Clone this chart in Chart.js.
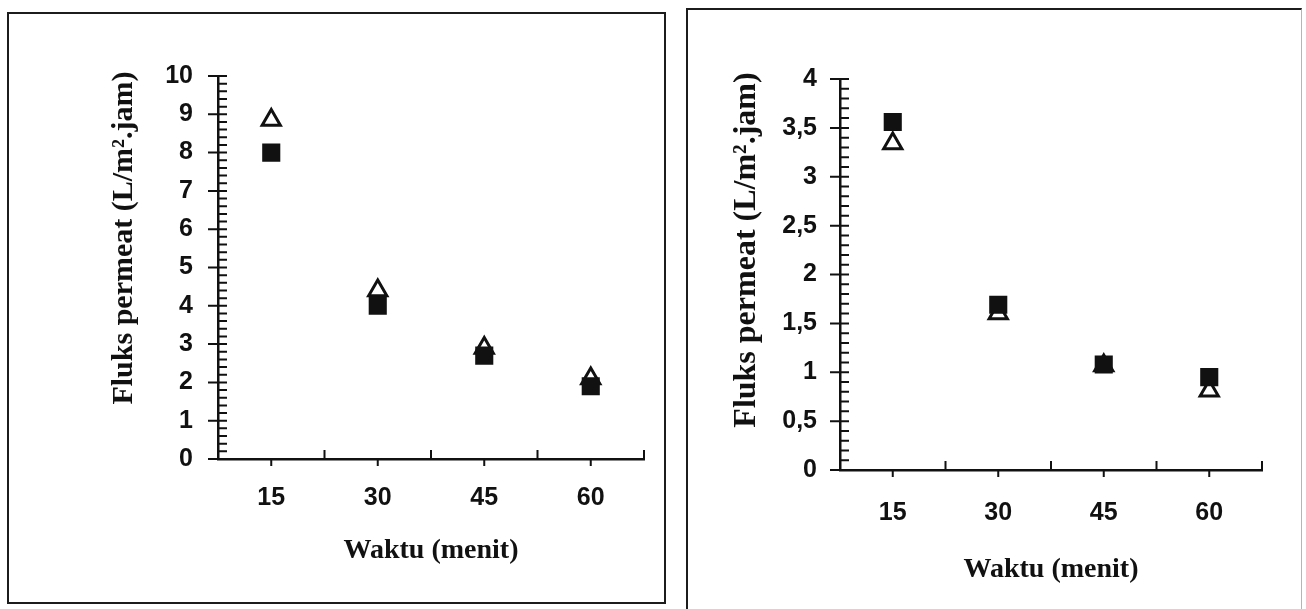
<!DOCTYPE html>
<html>
<head>
<meta charset="utf-8">
<script src="https://cdn.jsdelivr.net/npm/chart.js@4.4.1/dist/chart.umd.min.js"></script>
<style>
  body { margin: 0; width: 1306px; height: 609px; overflow: hidden; position: relative; background: #fff; }
  .kotak { position: absolute; box-sizing: border-box; border: 2px solid #1c1c1c; }
  .grafik { position: absolute; }
  #kotakKiri { left: 7px; top: 12px; width: 659px; height: 592px; }
  #kotakKanan { left: 686px; top: 8px; width: 616px; height: 606px; border-right: 1px solid #b5b5b5; }
  #kiri { left: 7px; top: 12px; width: 658px; height: 591px; }
  #kanan { left: 687px; top: 8px; width: 613px; height: 601px; }
</style>
</head>
<body>
<div class="kotak" id="kotakKiri"></div>
<div class="kotak" id="kotakKanan"></div>
<div class="grafik" id="kiri"><canvas id="cKiri"></canvas></div>
<div class="grafik" id="kanan"><canvas id="cKanan"></canvas></div>
<script>
// data
const waktu = ['15', '30', '45', '60'];
const kiriKotak = [8.0, 4.0, 2.7, 1.9];
const kiriSegitiga = [8.85, 4.4, 2.9, 2.1];
const kananKotak = [3.56, 1.69, 1.08, 0.95];
const kananSegitiga = [3.34, 1.6, 1.07, 0.81];

const judulX = 'Waktu (menit)';
const judulY = 'Fluks permeat (L/m\u00b2.jam)';

const hitam = '#111';
const hurufAngka = { family: 'Liberation Sans', size: 25, weight: 'bold' };

// tick kecil & besar pada sumbu, plus judul sumbu y
const tandaSumbu = {
  id: 'tandaSumbu',
  afterDraw(chart, args, opts) {
    const { ctx, chartArea } = chart;
    const sx = chart.scales.x, sy = chart.scales.y;
    const x0 = chartArea.left, y0 = chartArea.bottom;
    ctx.save();
    ctx.strokeStyle = hitam;
    ctx.lineWidth = 2;
    ctx.beginPath();
    sy.ticks.forEach(t => {
      const py = sy.getPixelForValue(t.value);
      ctx.moveTo(x0 - 10, py);
      ctx.lineTo(x0 + 9, py);
    });
    const n = Math.round((sy.max - sy.min) / opts.minor);
    for (let i = 0; i <= n; i++) {
      const py = sy.getPixelForValue(sy.min + i * opts.minor);
      ctx.moveTo(x0, py);
      ctx.lineTo(x0 + 9, py);
    }
    const k = sx.getLabels().length;
    for (let i = 1; i <= k; i++) {
      const px = sx.getPixelForValue(i - 0.5);
      ctx.moveTo(px, y0 + 1);
      ctx.lineTo(px, y0 - 9);
    }
    for (let i = 0; i < k; i++) {
      const px = sx.getPixelForValue(i);
      ctx.moveTo(px, y0);
      ctx.lineTo(px, y0 + 7);
    }
    ctx.stroke();

    ctx.translate(opts.jx, opts.jy);
    ctx.rotate(-Math.PI / 2);
    ctx.font = 'bold ' + opts.ukuran + 'px "Liberation Serif"';
    ctx.fillStyle = hitam;
    ctx.textAlign = 'center';
    ctx.textBaseline = 'middle';
    ctx.fillText(judulY, 0, 0);
    ctx.restore();
  }
};

function buatGrafik(id, kotak, segitiga, set) {
  return new Chart(document.getElementById(id), {
    type: 'line',
    data: {
      labels: waktu,
      datasets: [
        {
          data: kotak,
          showLine: false,
          pointStyle: 'rect',
          pointRadius: 12.8,
          pointBackgroundColor: hitam,
          pointBorderWidth: 0
        },
        {
          data: segitiga,
          showLine: false,
          pointStyle: 'triangle',
          pointRadius: 10.5,
          pointBackgroundColor: '#fff',
          pointBorderColor: hitam,
          pointBorderWidth: 3
        }
      ]
    },
    options: {
      responsive: true,
      maintainAspectRatio: false,
      animation: false,
      layout: { padding: { left: 0, right: set.kanan, top: set.atas, bottom: 0 } },
      plugins: {
        legend: { display: false },
        tooltip: { enabled: false },
        tandaSumbu: { minor: set.minor, jx: set.jx, jy: set.jy, ukuran: set.ukuranJudulY }
      },
      scales: {
        x: {
          type: 'category',
          offset: true,
          grid: { display: false, drawTicks: false },
          border: { color: hitam, width: 2.5 },
          ticks: { color: hitam, font: hurufAngka, padding: set.padX },
          title: {
            display: true,
            text: judulX,
            color: hitam,
            font: { family: 'Liberation Serif', size: 28, weight: 'bold' },
            padding: { top: 0, bottom: set.padJudulX }
          },
          afterFit: s => { s.height = set.tinggiX; }
        },
        y: {
          min: 0,
          max: set.maks,
          grid: { display: false, drawTicks: false },
          border: { color: hitam, width: 2.5 },
          ticks: {
            stepSize: set.langkah,
            color: hitam,
            font: hurufAngka,
            padding: set.padY,
            callback: v => String(v).replace('.', ',')
          },
          afterFit: s => { s.width = set.lebarY; }
        }
      }
    },
    plugins: [tandaSumbu]
  });
}

buatGrafik('cKiri', kiriKotak, kiriSegitiga, {
  maks: 10, langkah: 1, minor: 0.2,
  lebarY: 211, tinggiX: 144, kanan: 21, atas: 64,
  padY: 25, padX: 24, padJudulX: 35, jx: 117, jy: 226, ukuranJudulY: 30
});

buatGrafik('cKanan', kananKotak, kananSegitiga, {
  maks: 4, langkah: 0.5, minor: 0.1,
  lebarY: 153, tinggiX: 139, kanan: 38, atas: 71,
  padY: 23, padX: 28, padJudulX: 22, jx: 60, jy: 242, ukuranJudulY: 32
});
</script>
</body>
</html>
